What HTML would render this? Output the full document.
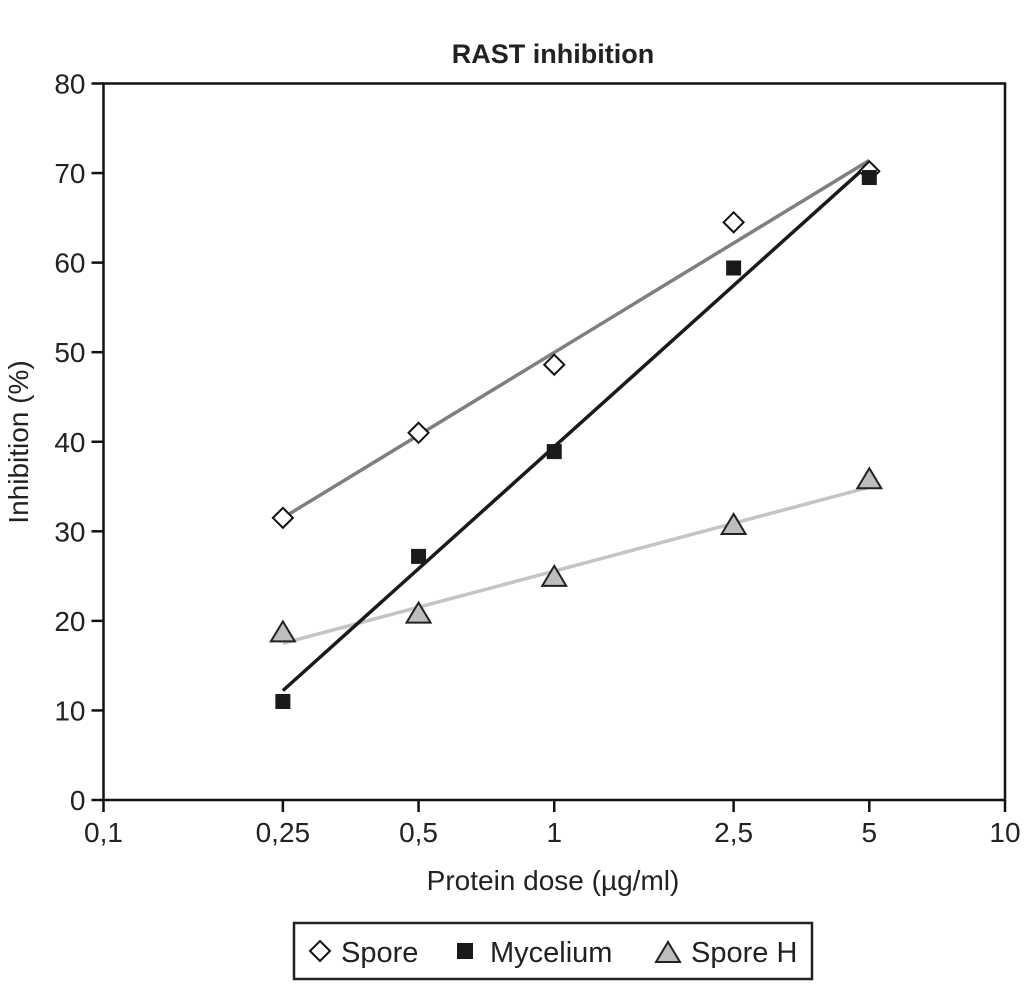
<!DOCTYPE html>
<html><head><meta charset="utf-8"><style>
html,body{margin:0;padding:0;background:#fff;}
svg{display:block;font-family:"Liberation Sans",Arial,sans-serif;}
</style></head><body>
<svg id="chart" width="1024" height="1005" viewBox="0 0 1024 1005">
<text x="553" y="63" text-anchor="middle" font-size="27" font-weight="bold" fill="#222">RAST inhibition</text>
<g id="axes"></g>
<g id="lines"></g>
<g id="marks"></g>
<text x="553" y="890" text-anchor="middle" font-size="28" fill="#222">Protein dose (µg/ml)</text>
<text transform="translate(28,442) rotate(-90)" text-anchor="middle" font-size="28" fill="#222">Inhibition (%)</text>
<g>
<rect x="294" y="923" width="518" height="56" fill="#fff" stroke="#222" stroke-width="2.5"/>
<g>
<path d="M320 941 L330 951 L320 961 L310 951 Z" fill="#fff" stroke="#111" stroke-width="2"/>
<text x="341" y="962" font-size="29" fill="#222">Spore</text></g>
<g>
<rect x="457" y="943" width="16" height="16" fill="#1a1a1a"/>
<text x="490" y="962" font-size="29" fill="#222">Mycelium</text></g>
<g>
<path d="M668 942 L680 962 L656 962 Z" fill="#bdbdbd" stroke="#222" stroke-width="2"/>
<text x="691" y="962" font-size="29" fill="#222">Spore H</text></g>
</g>
</svg>
<script>
const doses = [0.25, 0.5, 1, 2.5, 5];
const sporeValues = [31.5, 41, 48.6, 64.5, 70.2];
const myceliumValues = [11, 27.2, 38.9, 59.4, 69.5];
const sporeHValues = [18.6, 20.7, 24.8, 30.6, 35.7];
const xTicks = [0.1, 0.25, 0.5, 1, 2.5, 5, 10];
const xTickLabels = ["0,1", "0,25", "0,5", "1", "2,5", "5", "10"];
const yTicks = [0, 10, 20, 30, 40, 50, 60, 70, 80];

const X0 = 103.5, X1 = 1005, Y0 = 800, Y1 = 83.5;
function xs(v){ return X0 + (Math.log10(v) - Math.log10(0.1)) / 2 * (X1 - X0); }
function ys(v){ return Y0 - v / 80 * (Y0 - Y1); }
const NS = "http://www.w3.org/2000/svg";
function mk(tag, attrs, parent){ const e = document.createElementNS(NS, tag); for (const k in attrs) e.setAttribute(k, attrs[k]); parent.appendChild(e); return e; }

const axes = document.getElementById('axes');
const frame = mk('rect', {x:X0, y:Y1, width:X1-X0, height:Y0-Y1, fill:'none', stroke:'#111', 'stroke-width':2.5}, axes);


yTicks.forEach(t => {
  const tk = mk('line', {x1:X0-12, x2:X0, y1:ys(t), y2:ys(t), stroke:'#111', 'stroke-width':2.5}, axes);
  
  
  const lb = mk('text', {x:X0-18, y:ys(t)+10, 'text-anchor':'end', 'font-size':28, fill:'#222'}, axes);
  lb.textContent = t;
  
  
});
xTicks.forEach((t, i) => {
  const tk = mk('line', {x1:xs(t), x2:xs(t), y1:Y0, y2:Y0+12, stroke:'#111', 'stroke-width':2.5}, axes);
  
  
  const lb = mk('text', {x:xs(t), y:Y0+42, 'text-anchor':'middle', 'font-size':28, fill:'#222'}, axes);
  lb.textContent = xTickLabels[i];
  
  
});

function fit(vals){
  const lx = doses.map(d => Math.log10(d));
  const n = lx.length, mx = lx.reduce((a,b)=>a+b)/n, my = vals.reduce((a,b)=>a+b)/n;
  let sxy = 0, sxx = 0;
  lx.forEach((x,i) => { sxy += (x-mx)*(vals[i]-my); sxx += (x-mx)*(x-mx); });
  const b = sxy/sxx, a = my - b*mx;
  return d => a + b*Math.log10(d);
}
const lines = document.getElementById('lines');
const marks = document.getElementById('marks');
const series = [
  {name:'spore', vals:sporeValues, color:'#7f7f7f'},
  {name:'spore-h', vals:sporeHValues, color:'#c4c4c4'},
  {name:'mycelium', vals:myceliumValues, color:'#1a1a1a'}
];
series.forEach(s => {
  const f = fit(s.vals);
  const d0 = doses[0], d1 = doses[doses.length-1];
  const ln = mk('line', {x1:xs(d0), y1:ys(f(d0)), x2:xs(d1), y2:ys(f(d1)), stroke:s.color, 'stroke-width':3.5}, lines);
  
  
});
series.forEach(s => {
  s.vals.forEach((v, i) => {
    const cx = xs(doses[i]), cy = ys(v);
    let m;
    if (s.name === 'spore') m = mk('path', {d:`M${cx} ${cy-10} L${cx+10} ${cy} L${cx} ${cy+10} L${cx-10} ${cy} Z`, fill:'#fff', stroke:'#111', 'stroke-width':2}, marks);
    else if (s.name === 'mycelium') m = mk('rect', {x:cx-7.5, y:cy-7.5, width:15, height:15, fill:'#1a1a1a'}, marks);
    else m = mk('path', {d:`M${cx} ${cy-12} L${cx+12} ${cy+8} L${cx-12} ${cy+8} Z`, fill:'#bdbdbd', stroke:'#222', 'stroke-width':2}, marks);
    
    
  });
});
</script>
</body></html>
